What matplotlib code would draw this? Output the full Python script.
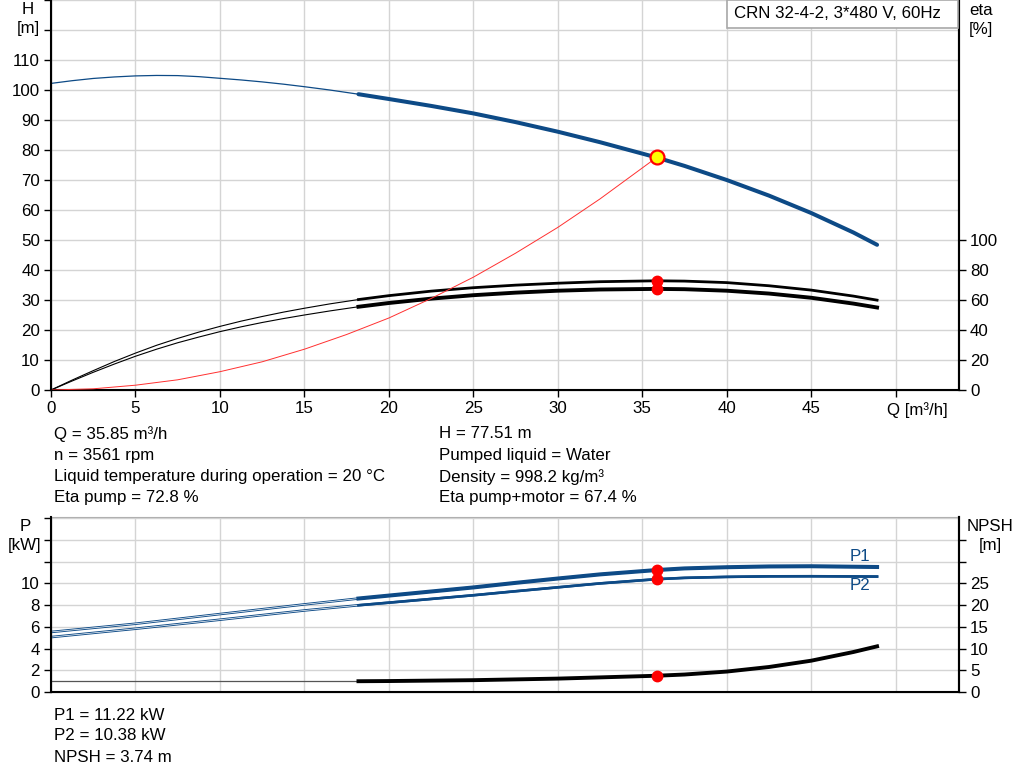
import matplotlib
matplotlib.use("Agg")
import matplotlib.pyplot as plt
import numpy as np
from matplotlib.patches import Rectangle

plt.rcParams['font.family'] = ['Liberation Sans', 'DejaVu Sans']
plt.rcParams['font.size'] = 12.2

# -- data
q = np.array([0, 1.25, 2.5, 3.75, 5, 6.25, 7.5, 8.75, 10, 11.25, 12.5, 13.75,
              15, 16.5, 18.2, 20, 22.5, 25, 27.5, 30, 32.5, 35.85, 37.5, 40,
              42.5, 45, 47.5, 48.9])
head = np.array([102.2, 103.1, 103.85, 104.35, 104.7, 104.85, 104.8, 104.45,
                 103.9, 103.35, 102.7, 101.95, 101.1, 100.0, 98.6, 97.0, 94.7,
                 92.2, 89.3, 86.1, 82.6, 77.51, 74.7, 70.0, 64.8, 59.0, 52.5,
                 48.4])
eta_pump = np.array([0, 6.6, 12.9, 19.0, 24.6, 29.8, 34.4, 38.6, 42.4, 45.9,
                     49.0, 51.9, 54.5, 57.4, 60.3, 62.9, 65.9, 68.2, 69.9,
                     71.2, 72.2, 72.8, 72.6, 71.6, 69.5, 66.6, 62.6, 59.9])
eta_total = np.array([0, 6.0, 11.8, 17.3, 22.5, 27.2, 31.5, 35.3, 38.9, 42.1,
                      45.0, 47.6, 50.0, 52.7, 55.5, 58.0, 60.9, 63.2, 64.9,
                      66.2, 67.0, 67.4, 67.2, 66.2, 64.3, 61.5, 57.6, 55.0])

q_sys = np.array([0, 2.5, 5, 7.5, 10, 12.5, 15, 17.5, 20, 22.5, 25, 27.5, 30,
                  32.5, 35.85])
h_sys = np.array([0, 0.4, 1.6, 3.4, 6.1, 9.4, 13.6, 18.5, 24.0, 30.5, 37.6,
                  45.6, 54.2, 63.7, 77.51])

q_p = np.array([0, 5, 10, 15, 18.2, 20, 25, 27.5, 30, 32.5, 35.85, 37.5, 40,
                42.5, 45, 48.9])
p1 = np.array([5.52, 6.28, 7.17, 8.06, 8.6, 8.87, 9.62, 10.04, 10.44, 10.82,
               11.22, 11.37, 11.48, 11.55, 11.57, 11.5])
p2 = np.array([5.05, 5.82, 6.65, 7.5, 7.98, 8.22, 8.9, 9.27, 9.63, 9.99,
               10.38, 10.5, 10.59, 10.64, 10.65, 10.62])

q_npsh = np.array([0, 18.2, 20, 25, 30, 32.5, 35.85, 37.5, 40, 42.5, 45, 47.5,
                   48.9])
npsh = np.array([2.48, 2.48, 2.52, 2.72, 3.08, 3.36, 3.74, 4.02, 4.7, 5.75,
                 7.2, 9.2, 10.5])

q_duty = 35.85
h_duty = 77.51
eta_duty = [72.8, 67.4]
p_duty = [11.22, 10.38]
npsh_duty = 3.74
q_min = 18.2

blue = '#0d4a86'
grid_c = '#d4d4d4'

info_left = ["Q = 35.85 m³/h", "n = 3561 rpm",
             "Liquid temperature during operation = 20 °C", "Eta pump = 72.8 %"]
info_right = ["H = 77.51 m", "Pumped liquid = Water", "Density = 998.2 kg/m³",
              "Eta pump+motor = 67.4 %"]
info_bottom = ["P1 = 11.22 kW", "P2 = 10.38 kW", "NPSH = 3.74 m"]

W, Hpx = 1024, 781
fig = plt.figure(figsize=(W / 100, Hpx / 100), dpi=100)


def fx(px):
    return px / W


def fy(py):
    return 1 - py / Hpx


def style_axes(a):
    a.tick_params(direction='out', length=5, width=1, colors='black', pad=3)
    a.set_axisbelow(True)


# ---------------- top chart: H and eta
ax = fig.add_axes([fx(51), fy(390), fx(959 - 51), fy(0) - fy(390)])
ax.set_xlim(0, 53.75)
ax.set_ylim(0, 130)
ax.set_xticks(np.arange(0, 51, 5))
ax.set_xticklabels([str(v) for v in range(0, 50, 5)] + [''])
ax.set_yticks(np.arange(0, 131, 10))
ax.set_yticklabels([str(v) for v in range(0, 111, 10)] + ['', ''])
ax.grid(True, color=grid_c, lw=1)
style_axes(ax)
ax.spines['top'].set_visible(False)
for s in ['left', 'bottom', 'right']:
    ax.spines[s].set_linewidth(1.5)

thick = q >= q_min
ax.plot(q, head, color=blue, lw=0.9)
ax.plot(q[thick], head[thick], color=blue, lw=2.9, solid_capstyle='round')

tw = ax.twinx()
tw.set_ylim(0, 260)
tw.set_yticks(np.arange(0, 101, 20))
style_axes(tw)
tw.spines['top'].set_visible(False)
tw.spines['right'].set_linewidth(1.5)
tw.plot(q, eta_pump, color='black', lw=0.8)
tw.plot(q, eta_total, color='black', lw=0.8)
tw.plot(q[thick], eta_pump[thick], color='black', lw=2.0)
tw.plot(q[thick], eta_total[thick], color='black', lw=2.8)
tw.plot(q_sys, h_sys, color='#ff3030', lw=0.7, transform=ax.transData)
tw.plot([q_duty] * 2, eta_duty, 'o', color='red', ms=7.5, mec='red')
tw.plot(q_duty, h_duty, 'o', color='#ffff00', mec='red', mew=1.6, ms=10,
        transform=ax.transData)

ax.annotate('Q [m³/h]', xy=(50, 0), xycoords='data', xytext=(-6, -9),
            textcoords='offset points', ha='left', va='top')
fig.text(fx(28), fy(19), 'H\n[m]', ha='center', va='center', linespacing=1.4)
fig.text(fx(981), fy(20), 'eta\n[%]', ha='center', va='center', linespacing=1.35)

fig.patches.append(Rectangle((fx(727), fy(28)), fx(958 - 727), fy(0) - fy(28),
                             transform=fig.transFigure, facecolor='white',
                             edgecolor='#a8a8a8', lw=1.2, zorder=5))
fig.text(fx(734), fy(14), 'CRN 32-4-2, 3*480 V, 60Hz', ha='left',
         va='center', zorder=6)

for i, t in enumerate(info_left):
    fig.text(fx(54), fy(434 + 21.3 * i), t, ha='left', va='center')
for i, t in enumerate(info_right):
    fig.text(fx(439), fy(434 + 21.3 * i), t, ha='left', va='center')

# ---------------- bottom chart: power and NPSH
bx = fig.add_axes([fx(51), fy(692), fx(959 - 51), fy(517) - fy(692)])
bx.set_xlim(0, 53.75)
bx.set_ylim(0, 16.1)
bx.set_xticks(np.arange(0, 51, 5))
bx.set_xticklabels([])
bx.set_yticks(np.arange(0, 17, 2))
bx.set_yticklabels([str(v) for v in range(0, 11, 2)] + ['', '', ''])
bx.grid(True, color=grid_c, lw=1)
style_axes(bx)
bx.tick_params(axis='x', length=0)
bx.spines['top'].set_color('#b0b0b0')
for s in ['left', 'bottom', 'right']:
    bx.spines[s].set_linewidth(1.5)

pthick = q_p >= q_min
for vals, lw in [(p1, 2.9), (p2, 1.9)]:
    bx.plot(q_p, vals, color=blue, lw=1.8)
    bx.plot(q_p, vals, color='white', lw=0.5)
    bx.plot(q_p[pthick], vals[pthick], color=blue, lw=lw)
bx.plot([q_duty] * 2, p_duty, 'o', color='red', ms=7.5)
bx.text(47.3, 11.75, 'P1', color=blue, ha='left', va='bottom')
bx.text(47.3, 10.45, 'P2', color=blue, ha='left', va='top')

bt = bx.twinx()
bt.set_ylim(0, 40.25)
bt.set_yticks(np.arange(0, 36, 5))
bt.set_yticklabels([str(v) for v in range(0, 26, 5)] + ['', ''])
style_axes(bt)
bt.spines['top'].set_visible(False)
bt.spines['right'].set_linewidth(1.5)
nthin = q_npsh <= q_min
nthick = q_npsh >= q_min
bt.plot(q_npsh[nthin], npsh[nthin], color='#555555', lw=0.9)
bt.plot(q_npsh[nthick], npsh[nthick], color='black', lw=2.8)
bt.plot(q_duty, npsh_duty, 'o', color='red', ms=7.5)

fig.text(fx(25), fy(536), 'P\n[kW]', ha='center', va='center', linespacing=1.35)
fig.text(fx(990), fy(536), 'NPSH\n[m]', ha='center', va='center', linespacing=1.35)

for i, t in enumerate(info_bottom):
    fig.text(fx(54), fy(715 + 21 * i), t, ha='left', va='center')

fig.savefig('out.png', dpi=100)
